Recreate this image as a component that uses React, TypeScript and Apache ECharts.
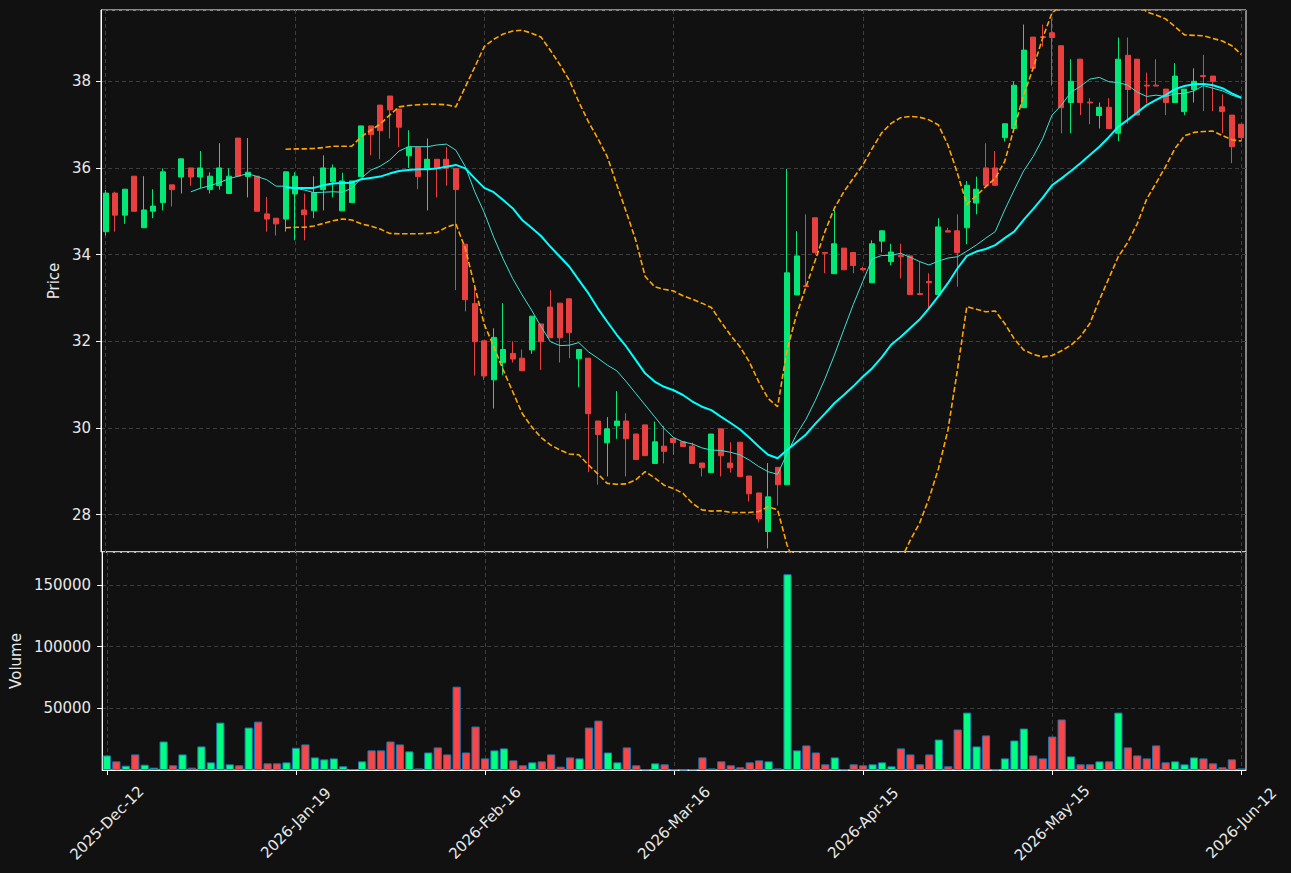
import React, { useEffect, useRef } from "react";
import * as echarts from "echarts";

const tickLabels = ["2025-Dec-12", "2026-Jan-19", "2026-Feb-16", "2026-Mar-16", "2026-Apr-15", "2026-May-15", "2026-Jun-12"];

const opens = [
  34.53, 35.42, 34.91, 35.81, 34.62, 35.0, 35.2, 35.61, 35.79, 36.0,
  35.79, 35.5, 35.59, 35.41, 36.69, 35.8, 35.81, 34.94, 34.84, 34.82,
  35.4, 35.03, 35.01, 35.5, 35.68, 35.01, 35.2, 35.8, 36.97, 37.45,
  37.66, 37.36, 36.28, 36.48, 35.99, 36.2, 36.2, 35.99, 34.24, 32.87,
  32.01, 31.11, 31.51, 31.72, 31.61, 31.8, 32.4, 32.79, 32.88, 32.98,
  31.6, 31.61, 30.16, 29.66, 30.05, 30.16, 29.86, 30.07, 29.18, 29.58,
  29.76, 29.68, 29.58, 29.19, 28.97, 29.98, 29.19, 29.67, 28.89, 28.5,
  27.61, 29.09, 28.69, 33.07, 33.28, 34.85, 34.05, 33.56, 34.15, 34.05,
  33.68, 33.35, 34.31, 33.84, 33.98, 33.97, 33.1, 33.38, 33.08, 34.55,
  34.55, 34.62, 35.19, 36.0, 36.0, 36.7, 36.91, 37.39, 39.02, 39.03,
  39.12, 38.82, 37.51, 38.51, 37.52, 37.21, 37.4, 36.8, 38.6, 38.51,
  37.91, 37.91, 37.82, 37.51, 37.3, 37.81, 38.13, 38.12, 37.41, 37.22,
  37.01,
];
const highs = [
  35.49, 35.45, 35.51, 35.81, 35.81, 35.51, 35.99, 35.61, 36.21, 36.0,
  36.39, 35.9, 36.57, 35.99, 36.69, 36.69, 35.81, 35.33, 34.84, 35.91,
  35.9, 35.41, 35.81, 36.29, 36.08, 35.89, 35.7, 36.97, 36.97, 37.45,
  37.66, 37.36, 36.87, 36.48, 36.68, 36.2, 36.48, 36.0, 34.24, 33.3,
  32.01, 32.3, 32.88, 32.0, 31.81, 32.58, 32.4, 33.18, 32.88, 32.98,
  31.81, 31.61, 30.16, 30.25, 30.85, 30.34, 29.86, 30.07, 30.15, 30.05,
  29.76, 29.68, 29.66, 29.19, 29.86, 29.98, 29.67, 29.67, 28.89, 28.5,
  29.19, 29.09, 35.98, 34.54, 34.93, 34.85, 34.05, 35.03, 34.15, 34.05,
  33.72, 34.33, 34.55, 34.25, 34.25, 33.97, 33.84, 33.57, 34.84, 34.62,
  34.93, 35.7, 35.8, 36.57, 36.39, 37.02, 38.0, 39.31, 39.02, 39.31,
  39.45, 38.82, 38.51, 38.51, 37.61, 37.51, 37.61, 39.01, 39.01, 38.51,
  38.2, 38.51, 37.82, 38.42, 37.82, 38.3, 38.61, 38.12, 37.7, 37.22,
  37.01,
];
const lows = [
  34.44, 34.53, 34.71, 35.0, 34.62, 34.84, 35.02, 35.11, 35.41, 35.59,
  35.53, 35.41, 35.5, 35.41, 35.81, 35.32, 35.0, 34.53, 34.44, 34.53,
  34.33, 34.33, 34.84, 35.02, 35.32, 35.01, 35.2, 35.8, 36.29, 36.2,
  36.68, 36.48, 36.0, 35.51, 35.02, 35.32, 35.59, 33.18, 32.69, 31.21,
  31.11, 30.45, 31.22, 31.51, 31.32, 31.71, 31.34, 32.08, 31.51, 31.61,
  30.94, 28.98, 28.69, 28.88, 29.75, 28.88, 29.27, 29.36, 29.18, 29.18,
  29.38, 29.57, 29.18, 28.88, 28.97, 28.88, 28.97, 28.88, 28.3, 27.82,
  27.22, 28.21, 28.69, 33.07, 33.26, 34.0, 33.57, 33.56, 33.65, 33.57,
  33.63, 33.35, 34.05, 33.75, 33.45, 33.08, 33.08, 32.75, 33.08, 34.52,
  33.26, 34.24, 34.93, 35.6, 35.6, 36.61, 36.91, 37.39, 38.3, 38.8,
  37.9, 36.8, 36.8, 37.22, 37.01, 36.91, 36.91, 36.62, 37.02, 37.22,
  37.49, 37.89, 37.22, 37.51, 37.22, 37.51, 37.31, 37.31, 36.8, 36.11,
  36.61,
];
const closes = [
  35.42, 34.91, 35.51, 35.0, 35.03, 35.12, 35.91, 35.5, 36.21, 35.79,
  36.0, 35.81, 36.0, 35.81, 35.81, 35.9, 35.0, 34.82, 34.71, 35.91,
  35.81, 34.92, 35.43, 36.0, 36.0, 35.7, 35.7, 36.97, 36.77, 36.86,
  37.34, 36.94, 36.48, 35.8, 36.2, 35.99, 35.99, 35.5, 32.96, 31.99,
  31.2, 32.09, 31.81, 31.59, 31.32, 32.58, 31.99, 32.08, 32.08, 32.2,
  31.81, 30.33, 29.85, 29.98, 30.16, 29.75, 29.27, 29.36, 29.68, 29.46,
  29.66, 29.57, 29.18, 29.08, 29.86, 29.36, 29.08, 28.88, 28.48, 27.9,
  28.41, 28.69, 33.58, 33.97, 33.26, 34.05, 34.03, 34.25, 33.65, 33.75,
  33.65, 34.25, 34.55, 34.06, 33.95, 33.08, 33.08, 33.35, 34.64, 34.52,
  34.05, 35.6, 35.51, 35.6, 35.6, 37.02, 37.91, 38.72, 38.3, 39.01,
  39.01, 37.39, 38.0, 37.51, 37.5, 37.4, 36.91, 38.51, 37.81, 37.22,
  37.89, 37.89, 37.51, 38.12, 37.82, 38.0, 38.11, 38.0, 37.3, 36.49,
  36.7,
];
const volumes = [
  11800, 7000, 3500, 12600, 4300, 1900, 23100, 3800, 12600, 1900,
  19100, 6200, 38400, 4600, 3800, 34400, 39200, 5400, 5400, 6200,
  18000, 20700, 10200, 8600, 9400, 3000, 800, 7000, 15900, 15900,
  23100, 20700, 15100, 1300, 14200, 18300, 12600, 67500, 14200, 35200,
  9400, 15900, 17500, 7800, 3800, 6200, 7000, 12600, 2700, 10200,
  9400, 34400, 40000, 14200, 6200, 18300, 3800, 500, 5400, 4600,
  500, 200, 500, 10200, 1300, 7000, 3800, 2200, 6200, 7800,
  7000, 1300, 158600, 15900, 19900, 14200, 4600, 10200, 500, 4600,
  3800, 4600, 6200, 3000, 17500, 12600, 4600, 12600, 24700, 3000,
  32800, 46500, 19100, 28000, 500, 9400, 23900, 33600, 11800, 9400,
  27100, 40900, 11000, 4600, 4600, 7000, 7000, 46500, 18300, 11800,
  9400, 19900, 6200, 7000, 4600, 10200, 9400, 5400, 2200, 8600,
  1300,
];

// 10-period moving average (thin line), first value at index 9
const ma10Start = 9;
const ma10 = [
  35.45, 35.53, 35.59, 35.66, 35.75, 35.81, 35.87, 35.8, 35.73, 35.58,
  35.58, 35.53, 35.49, 35.43, 35.44, 35.45, 35.44, 35.53, 35.76, 35.95,
  36.04, 36.18, 36.39, 36.49, 36.49, 36.49, 36.53, 36.55, 36.41, 36.03,
  35.45, 34.97, 34.4, 33.9, 33.45, 33.07, 32.72, 32.34, 31.99, 31.9,
  31.91, 31.97, 31.76, 31.61, 31.45, 31.32, 31.07, 30.8, 30.53, 30.26,
  29.99, 29.78, 29.68, 29.63, 29.54, 29.49, 29.48, 29.44, 29.38, 29.26,
  29.11, 28.99, 28.93, 29.41, 29.85, 30.2, 30.64, 31.13, 31.68, 32.27,
  32.85, 33.38, 33.9, 33.98, 33.98, 34.03, 33.94, 33.84, 33.76, 33.85,
  33.92, 33.95, 34.08, 34.22, 34.38, 34.53, 35.03, 35.49, 35.93, 36.26,
  36.67, 37.22, 37.45, 37.75, 37.88, 38.05, 38.09, 37.99, 37.97, 37.91,
  37.75, 37.65, 37.68, 37.65, 37.71, 37.72, 37.78, 37.9, 37.84, 37.78,
  37.68, 37.61,
];
// 20-period moving average (thick line) and Bollinger bands, first value at index 19
const ma20Start = 19;
const ma20 = [
  35.55, 35.54, 35.54, 35.54, 35.6, 35.64, 35.65, 35.66, 35.74, 35.77,
  35.8, 35.87, 35.93, 35.95, 35.97, 35.97, 35.99, 36.03, 36.07, 35.99,
  35.76, 35.54, 35.44, 35.26, 35.07, 34.8, 34.62, 34.43, 34.18, 33.95,
  33.72, 33.41, 33.11, 32.76, 32.45, 32.15, 31.88, 31.57, 31.26, 31.07,
  30.95, 30.87, 30.76, 30.61, 30.49, 30.41, 30.26, 30.12, 29.97, 29.78,
  29.57, 29.38, 29.3, 29.49, 29.67, 29.85, 30.1, 30.33, 30.57, 30.76,
  30.96, 31.18, 31.38, 31.63, 31.92, 32.1, 32.3, 32.5, 32.76, 33.04,
  33.34, 33.68, 33.97, 34.07, 34.13, 34.22, 34.38, 34.53, 34.8, 35.05,
  35.31, 35.6, 35.76, 35.93, 36.11, 36.3, 36.49, 36.71, 36.95, 37.11,
  37.28, 37.45, 37.57, 37.68, 37.82, 37.89, 37.93, 37.94, 37.91, 37.84,
  37.72, 37.62,
];
const bbUpper = [
  36.43, 36.44, 36.44, 36.45, 36.47, 36.5, 36.5, 36.5, 36.72, 36.87,
  37.01, 37.22, 37.41, 37.44, 37.46, 37.47, 37.47, 37.46, 37.41, 37.87,
  38.33, 38.8, 38.97, 39.09, 39.16, 39.18, 39.11, 39.02, 38.71, 38.38,
  38.02, 37.52, 37.07, 36.68, 36.26, 35.62, 34.99, 34.34, 33.5, 33.26,
  33.2, 33.16, 33.05, 32.97, 32.88, 32.78, 32.45, 32.15, 31.88, 31.53,
  31.07, 30.68, 30.49, 31.8, 32.61, 33.26, 33.88, 34.53, 35.07, 35.45,
  35.76, 36.07, 36.45, 36.81, 37.03, 37.16, 37.19, 37.17, 37.11, 36.99,
  36.53, 35.88, 35.16, 35.36, 35.57, 35.76, 36.15, 36.92, 37.68, 38.3,
  38.99, 39.58, 39.74, 39.95, 40.11, 40.19, 40.03, 39.97, 39.95, 39.94,
  39.85, 39.6, 39.53, 39.44, 39.26, 39.07, 39.06, 39.05, 38.99, 38.93,
  38.82, 38.62,
];
const bbLower = [
  34.62, 34.63, 34.63, 34.66, 34.72, 34.78, 34.82, 34.8, 34.71, 34.66,
  34.59, 34.49, 34.48, 34.48, 34.48, 34.49, 34.51, 34.63, 34.71, 34.14,
  33.26, 32.39, 31.88, 31.34, 30.84, 30.34, 30.03, 29.78, 29.61, 29.49,
  29.4, 29.38, 29.15, 28.94, 28.72, 28.7, 28.71, 28.8, 28.99, 28.85,
  28.68, 28.6, 28.49, 28.26, 28.11, 28.08, 28.09, 28.05, 28.05, 28.05,
  28.07, 28.18, 28.11, 27.3, 26.75, 26.46, 26.3, 26.11, 26.07, 26.07,
  26.18, 26.29, 26.35, 26.43, 26.67, 26.94, 27.4, 27.8, 28.37, 29.06,
  29.95, 31.33, 32.8, 32.74, 32.68, 32.7, 32.41, 32.06, 31.8, 31.7,
  31.64, 31.67, 31.78, 31.91, 32.11, 32.41, 32.95, 33.45, 33.95, 34.28,
  34.71, 35.28, 35.65, 36.03, 36.45, 36.74, 36.82, 36.84, 36.85, 36.75,
  36.65, 36.62,
];

const FONT = "DejaVu Sans";
const TXT = "#e8e8e8";
const GRIDC = "#3e3e3e";
const UP = "#02e775";
const DOWN = "#e83f3f";
const VOL_UP = "#00ff80";
const VOL_DOWN = "#ff4444";

function pad(values: number[], start: number): (number | string)[] {
  const out: (number | string)[] = [];
  for (let i = 0; i < start; i++) out.push("-");
  return out.concat(values);
}

export default function App() {
  const ref = useRef<HTMLDivElement>(null);
  useEffect(() => {
    if (!ref.current) return;
    const chart = echarts.init(ref.current, undefined, { renderer: "svg" });
    const categories = opens.map((_, i) => String(i));
    const candleData = opens.map((o, i) => [o, closes[i], lows[i], highs[i]]);
    const volData = volumes.map((v, i) => ({
      value: v,
      itemStyle: { color: closes[i] >= opens[i] ? VOL_UP : VOL_DOWN },
    }));
    const splitLine = {
      show: true,
      interval: 19,
      alignWithLabel: true,
      lineStyle: { color: GRIDC, type: [4, 3], width: 1 },
    };
    const labelStyle = { color: TXT, fontSize: 15, fontFamily: FONT };
    chart.setOption({
      animation: false,
      backgroundColor: "#111111",
      grid: [
        { left: 101, top: 10, width: 1145, height: 542, show: true, borderColor: "#ffffff", borderWidth: 1 },
        { left: 101, top: 552, width: 1145, height: 218, show: true, borderColor: "#ffffff", borderWidth: 1 },
      ],
      xAxis: [
        {
          type: "category",
          gridIndex: 0,
          data: categories,
          boundaryGap: true,
          axisLine: { show: false },
          axisTick: { show: false },
          axisLabel: { show: false },
          splitLine,
        },
        {
          type: "category",
          gridIndex: 1,
          data: categories,
          boundaryGap: true,
          axisLine: { show: true, lineStyle: { color: "#ffffff" } },
          axisTick: { show: true, interval: 19, alignWithLabel: true, length: 5, lineStyle: { color: "#ffffff" } },
          axisLabel: {
            show: true,
            interval: 19,
            rotate: 45,
            align: "center",
            verticalAlign: "middle",
            margin: 53,
            padding: [0, 0, 8, 0],
            ...labelStyle,
            formatter: (_v: string, idx: number) => (idx % 20 === 0 ? tickLabels[idx / 20] : ""),
          },
          splitLine,
        },
      ],
      yAxis: [
        {
          type: "value",
          gridIndex: 0,
          min: 27.137,
          max: 39.645,
          splitNumber: 6,
          axisLine: { show: true, lineStyle: { color: "#ffffff" } },
          axisTick: { show: true, length: 5, lineStyle: { color: "#ffffff" } },
          axisLabel: { ...labelStyle, margin: 10, showMinLabel: false, showMaxLabel: false },
          splitLine: { show: true, lineStyle: { color: GRIDC, type: [4, 3], width: 1 } },
          name: "Price",
          nameLocation: "middle",
          nameGap: 35,
          nameTextStyle: labelStyle,
        },
        {
          type: "value",
          gridIndex: 1,
          min: 0,
          max: 176600,
          interval: 50000,
          axisLine: { show: true, lineStyle: { color: "#ffffff" } },
          axisTick: { show: true, length: 5, lineStyle: { color: "#ffffff" } },
          axisLabel: {
            ...labelStyle,
            margin: 11,
            showMinLabel: false,
            showMaxLabel: false,
            formatter: (v: number) => String(v),
          },
          splitLine: { show: true, lineStyle: { color: GRIDC, type: [4, 3], width: 1 } },
          name: "Volume",
          nameLocation: "middle",
          nameGap: 75,
          nameTextStyle: labelStyle,
        },
      ],
      series: [
        {
          type: "candlestick",
          xAxisIndex: 0,
          yAxisIndex: 0,
          data: candleData,
          barWidth: 5.5,
          itemStyle: { color: UP, color0: DOWN, borderColor: UP, borderColor0: DOWN, borderWidth: 1 },
          z: 2,
        },
        {
          type: "line",
          xAxisIndex: 0,
          yAxisIndex: 0,
          data: pad(bbUpper, ma20Start),
          symbol: "none",
          clip: true,
          lineStyle: { color: "#ffa500", width: 1.6, type: [5.5, 2.5] },
          z: 3,
        },
        {
          type: "line",
          xAxisIndex: 0,
          yAxisIndex: 0,
          data: pad(bbLower, ma20Start),
          symbol: "none",
          clip: true,
          lineStyle: { color: "#ffa500", width: 1.6, type: [5.5, 2.5] },
          z: 3,
        },
        {
          type: "line",
          xAxisIndex: 0,
          yAxisIndex: 0,
          data: pad(ma10, ma10Start),
          symbol: "none",
          clip: true,
          lineStyle: { color: "#40e0d0", width: 1 },
          z: 4,
        },
        {
          type: "line",
          xAxisIndex: 0,
          yAxisIndex: 0,
          data: pad(ma20, ma20Start),
          symbol: "none",
          clip: true,
          lineStyle: { color: "#00ffff", width: 2 },
          z: 5,
        },
        {
          type: "bar",
          xAxisIndex: 1,
          yAxisIndex: 1,
          data: volData,
          barWidth: 8.2,
          itemStyle: { borderColor: "#1f77b4", borderWidth: 1 },
        },
      ],
    });
    return () => chart.dispose();
  }, []);
  return (
    <div
      ref={ref}
      style={{ position: "absolute", left: 0, top: 0, width: 1291, height: 873, background: "#111111" }}
    />
  );
}
